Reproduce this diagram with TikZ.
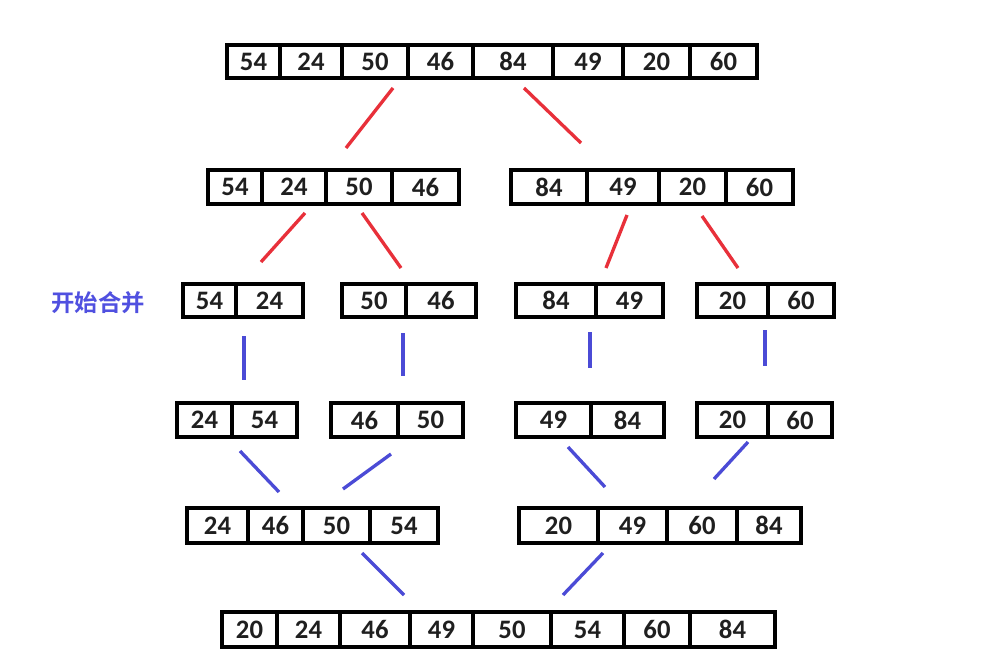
\documentclass[tikz,border=0pt]{standalone}
\usepackage{fontspec}
\setmainfont{Carlito}
\newfontfamily\cjk{Noto Sans CJK SC}[BoldFont={* Bold}]
\definecolor{redline}{HTML}{E8303A}
\definecolor{blueline}{HTML}{4B4BD6}
\definecolor{labelblue}{HTML}{5050E0}
\newcommand\cellbox[6]{\node[cellst, minimum width={(#3-#2)*0.75pt}, minimum height={(#5-#4)*0.75pt}] (#1) at ({(#2+#3)/2},{(#4+#5)/2}) {#6};}
\begin{document}
\begin{tikzpicture}[x=0.75pt,y=-0.75pt,
  cellst/.style={draw=black, line width=2.7pt, inner sep=0pt, font=\bfseries\fontsize{20}{21}\selectfont, text=black!88},
  redseg/.style={draw=redline, line width=2.5pt},
  blueseg/.style={draw=blueline, line width=2.5pt}]
\useasboundingbox[fill=white] (0,0) rectangle (989,664);
% row 1
\cellbox{a1}{227}{280}{45}{78}{54}
\cellbox{a2}{280}{342}{45}{78}{24}
\cellbox{a3}{342}{408}{45}{78}{50}
\cellbox{a4}{408}{473}{45}{78}{46}
\cellbox{a5}{473}{553}{45}{78}{84}
\cellbox{a6}{553}{623}{45}{78}{49}
\cellbox{a7}{623}{690}{45}{78}{20}
\cellbox{a8}{690}{757}{45}{78}{60}
% row 2
\cellbox{b1}{208}{262}{170}{204}{54}
\cellbox{b2}{262}{326}{170}{204}{24}
\cellbox{b3}{326}{392}{170}{204}{50}
\cellbox{b4}{392}{459}{170}{204}{46}
\cellbox{b5}{511}{587}{170}{204}{84}
\cellbox{b6}{587}{659}{170}{204}{49}
\cellbox{b7}{659}{726}{170}{204}{20}
\cellbox{b8}{726}{793}{170}{204}{60}
% row 3
\node[font=\cjk\bfseries\fontsize{17.5}{18}\selectfont, text=labelblue] (lbl) at (98,303) {开始合并};
\cellbox{c1}{183}{236}{284}{317}{54}
\cellbox{c2}{236}{303}{284}{317}{24}
\cellbox{c3}{342}{406}{284}{317}{50}
\cellbox{c4}{406}{476}{284}{317}{46}
\cellbox{c5}{516}{596}{284}{317}{84}
\cellbox{c6}{596}{663}{284}{317}{49}
\cellbox{c7}{697}{768}{284}{317}{20}
\cellbox{c8}{768}{834}{284}{317}{60}
% row 4
\cellbox{d1}{177}{232}{403}{437}{24}
\cellbox{d2}{232}{297}{403}{437}{54}
\cellbox{d3}{331}{398}{403}{437}{46}
\cellbox{d4}{398}{463}{403}{437}{50}
\cellbox{d5}{516}{591}{403}{437}{49}
\cellbox{d6}{591}{664}{403}{437}{84}
\cellbox{d7}{697}{768}{403}{437}{20}
\cellbox{d8}{768}{832}{403}{437}{60}
% row 5
\cellbox{e1}{187}{248}{508}{543}{24}
\cellbox{e2}{248}{303}{508}{543}{46}
\cellbox{e3}{303}{370}{508}{543}{50}
\cellbox{e4}{370}{438}{508}{543}{54}
\cellbox{e5}{519}{598}{508}{543}{20}
\cellbox{e6}{598}{667}{508}{543}{49}
\cellbox{e7}{667}{737}{508}{543}{60}
\cellbox{e8}{737}{801}{508}{543}{84}
% row 6
\cellbox{f1}{222}{277}{612}{647}{20}
\cellbox{f2}{277}{340}{612}{647}{24}
\cellbox{f3}{340}{410}{612}{647}{46}
\cellbox{f4}{410}{473}{612}{647}{49}
\cellbox{f5}{473}{551}{612}{647}{50}
\cellbox{f6}{551}{624}{612}{647}{54}
\cellbox{f7}{624}{690}{612}{647}{60}
\cellbox{f8}{690}{775}{612}{647}{84}
% connector endpoints
\coordinate (p1a) at (393,88);  \coordinate (p1b) at (346,148);
\coordinate (p2a) at (524,88);  \coordinate (p2b) at (581,143);
\coordinate (p3a) at (305,213); \coordinate (p3b) at (261,262);
\coordinate (p4a) at (362,213); \coordinate (p4b) at (401,268);
\coordinate (p5a) at (627,215); \coordinate (p5b) at (606,268);
\coordinate (p6a) at (702,216); \coordinate (p6b) at (738,268);
\coordinate (q1a) at (244,336); \coordinate (q1b) at (244,380);
\coordinate (q2a) at (403,333); \coordinate (q2b) at (403,376);
\coordinate (q3a) at (590,332); \coordinate (q3b) at (590,368);
\coordinate (q4a) at (765,330); \coordinate (q4b) at (765,366);
\coordinate (s1a) at (240,451); \coordinate (s1b) at (279,492);
\coordinate (s2a) at (391,454); \coordinate (s2b) at (343,489);
\coordinate (s3a) at (568,447); \coordinate (s3b) at (605,487);
\coordinate (s4a) at (748,442); \coordinate (s4b) at (714,479);
\coordinate (t1a) at (362,553); \coordinate (t1b) at (404,595);
\coordinate (t2a) at (603,553); \coordinate (t2b) at (563,595);
\foreach \k in {1,...,6} \draw[redseg] (p\k a) -- (p\k b);
\foreach \k in {1,...,4} \draw[blueseg] (q\k a) -- (q\k b);
\foreach \k in {1,...,4} \draw[blueseg] (s\k a) -- (s\k b);
\foreach \k in {1,2} \draw[blueseg] (t\k a) -- (t\k b);
\end{tikzpicture}
\end{document}
